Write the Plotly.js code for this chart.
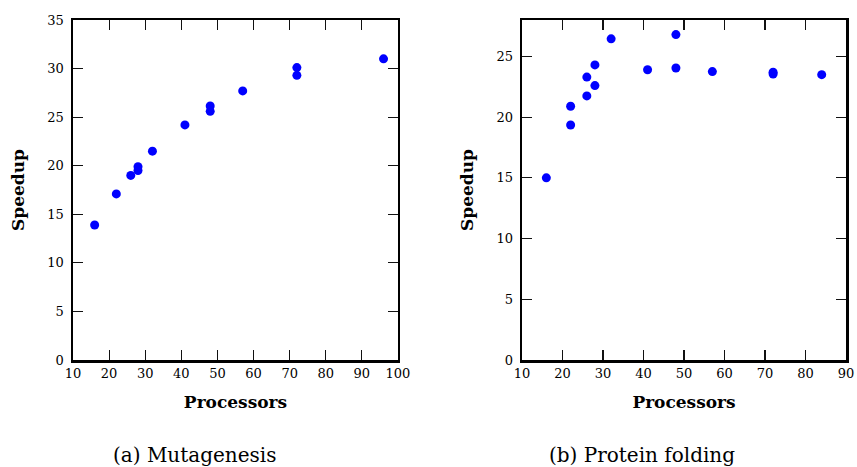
<!DOCTYPE html>
<html><head><meta charset="utf-8">
<script src="https://cdn.plot.ly/plotly-3.0.1.min.js"></script>
<style>body{margin:0;padding:0;background:#fff}#chart{width:857px;height:467px}</style>
</head><body><div id="chart"></div>
<script>
const mutaProcessors = [16, 22, 26, 28, 28, 32, 41, 48, 48, 57, 72, 72, 96];
const mutaSpeedup    = [13.9, 17.1, 19.0, 19.9, 19.5, 21.5, 24.2, 26.15, 25.6, 27.7, 30.1, 29.3, 31.0];
const protProcessors = [16, 22, 22, 26, 26, 28, 28, 32, 41, 48, 48, 57, 72, 72, 84];
const protSpeedup    = [15.0, 20.9, 19.35, 21.75, 23.3, 24.3, 22.6, 26.45, 23.9, 26.8, 24.05, 23.75, 23.7, 23.55, 23.5];
const xTicksA = [10, 20, 30, 40, 50, 60, 70, 80, 90, 100];
const xTicksB = [10, 20, 30, 40, 50, 60, 70, 80, 90];
const yTicksA = [0, 5, 10, 15, 20, 25, 30, 35];
const yTicksB = [0, 5, 10, 15, 20, 25];
const captions = ["(a) Mutagenesis", "(b) Protein folding"];

const font = "DejaVu Serif, serif";
const marker = {color: '#0000ff', size: 9};
const traces = [
  {x: mutaProcessors, y: mutaSpeedup, type: 'scatter', mode: 'markers', marker: marker, xaxis: 'x', yaxis: 'y', cliponaxis: false},
  {x: protProcessors, y: protSpeedup, type: 'scatter', mode: 'markers', marker: marker, xaxis: 'x2', yaxis: 'y2', cliponaxis: false}
];
function ax(extra) {
  return Object.assign({
    showgrid: false, zeroline: false, showline: true, linecolor: '#000', linewidth: 2.5,
    mirror: 'allticks', ticks: 'inside', ticklen: 10, tickwidth: 1.2, tickcolor: '#111',
    tickfont: {family: font, size: 13, color: '#000'}, fixedrange: true
  }, extra);
}
const tfont = {family: font, size: 17, color: '#000'};
const layout = {
  width: 857, height: 467, showlegend: false,
  paper_bgcolor: '#fff', plot_bgcolor: '#fff',
  margin: {l: 73, r: 11, t: 20, b: 107},
  font: {family: font, color: '#000'},
  xaxis: ax({domain: [0, 0.4204], range: [10, 100], tickvals: xTicksA, ticktext: xTicksA.map(String), anchor: 'y',
    title: {text: '<b>Processors</b>', font: tfont, standoff: 16}}),
  yaxis: ax({domain: [0, 1], range: [0, 35], tickvals: yTicksA, ticktext: yTicksA.map(String), anchor: 'x', ticklabelstandoff: 4,
    title: {text: '<b>Speedup</b>', font: tfont, standoff: 19}}),
  xaxis2: ax({domain: [0.5809, 1], range: [10, 90], tickvals: xTicksB, ticktext: xTicksB.map(String), anchor: 'y2',
    title: {text: '<b>Processors</b>', font: tfont, standoff: 16}}),
  yaxis2: ax({domain: [0, 1], range: [0, 28], tickvals: yTicksB, ticktext: yTicksB.map(String), anchor: 'x2', ticklabelstandoff: 4,
    title: {text: '<b>Speedup</b>', font: tfont, standoff: 19}}),
  annotations: [
    {text: captions[0], xref: 'paper', yref: 'paper', x: 0.158, y: -0.279, yanchor: 'middle', xanchor: 'center', showarrow: false, font: {family: font, size: 20}},
    {text: captions[1], xref: 'paper', yref: 'paper', x: 0.736, y: -0.279, yanchor: 'middle', xanchor: 'center', showarrow: false, font: {family: font, size: 20}}
  ]
};
Plotly.newPlot('chart', traces, layout, {displayModeBar: false, staticPlot: true});
</script></body></html>
